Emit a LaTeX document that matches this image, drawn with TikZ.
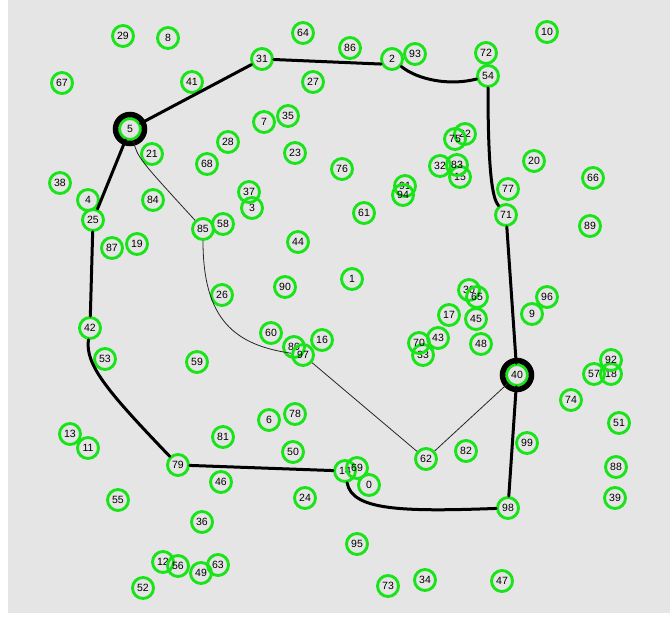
\documentclass[tikz,border=0pt]{standalone}
\usepackage{fontspec}
\setmainfont{Liberation Sans}
\definecolor{ngreen}{RGB}{25,228,25}
\definecolor{bggray}{RGB}{229,229,229}
\begin{document}
\begin{tikzpicture}[x=1pt,y=-1pt,
  vtx/.style={circle,draw=ngreen,line width=2.9pt,minimum size=21pt,inner sep=0pt,
    font=\fontsize{10.5}{10.5}\selectfont,text=black},
  ring/.style={draw=black,line width=5.5pt},
  thick path/.style={draw=black,line width=3pt,line cap=round,line join=round},
  thin path/.style={draw=black!85,line width=0.8pt}]
\useasboundingbox (0,0) rectangle (670,623);
\fill[white] (0,0) rectangle (670,623);
\fill[bggray] (8,0) rectangle (670,613);
% nodes
\foreach \n/\x/\y in {
 0/369/485, 1/352/279, 2/392/59, 3/252/208, 4/88/200, 5/130/129, 6/269/420,
 7/264/122, 8/168/38, 9/532/314, 10/547/32, 11/88/448, 12/163/562, 13/70/434,
 14/345/471, 15/460/177, 16/322/340, 17/449/315, 18/611/374, 19/137/244,
 20/534/161, 21/152/154, 22/465/134, 23/295/153, 24/305/498, 25/93/220,
 26/222/295, 27/313/82, 28/228/142, 29/123/36, 30/469/290, 31/262/59,
 32/440/166, 33/423/355, 34/425/580, 35/288/116, 36/202/522, 37/249/192,
 38/60/183, 39/615/498, 40/517/375, 41/192/82, 42/90/328, 43/438/338,
 44/298/242, 45/476/319, 46/221/482, 47/502/581, 48/481/344, 49/201/573,
 50/293/452, 51/619/423, 52/143/588, 53/105/359, 54/488/76, 55/118/500,
 56/178/566, 57/594/374, 58/223/224, 59/197/362, 60/271/333, 61/364/213,
 62/426/459, 63/218/565, 64/303/33, 65/477/297, 66/593/178, 67/62/83,
 68/207/164, 69/357/468, 70/419/343, 71/506/215, 72/486/53, 73/388/586,
 74/571/400, 75/455/139, 76/342/169, 77/508/189, 78/295/414, 79/178/465,
 80/294/347, 81/223/437, 82/466/451, 83/457/165, 84/153/200, 85/203/229,
 86/350/48, 87/112/248, 88/616/467, 89/590/226, 90/285/287, 91/405/186,
 92/611/360, 93/415/54, 94/403/195, 95/357/544, 96/547/297, 97/303/355,
 98/508/508, 99/527/443}
 { \node[vtx] (\n) at (\x,\y) {\n}; }
% big rings
\draw[ring] (5) circle[radius=14.5];
\draw[ring] (40) circle[radius=14.5];
% thick tour
\path[thick path] (5) -- (31);
\path[thick path] (31) -- (2.205);
\path[thick path] (2) .. controls (418,80) and (450,86) .. (54);
\path[thick path] (54) .. controls (488,185) and (494,200) .. (71);
\path[thick path] (71) -- (40);
\path[thick path] (40) -- (98);
\path[thick path] (98) .. controls (400,512) and (352,510) .. (14);
\path[thick path] (14) -- (79);
\path[thick path] (79) .. controls (108,392) and (85,365) .. (42);
\path[thick path] (42) -- (25);
\path[thick path] (25) -- (5);
% thin path
\path[thin path] (5) .. controls (138,158) .. (85);
\path[thin path] (85) .. controls (203,320) and (235,345) .. (97);
\path[thin path] (97) -- (62);
\path[thin path] (62) -- (40);
\end{tikzpicture}
\end{document}
